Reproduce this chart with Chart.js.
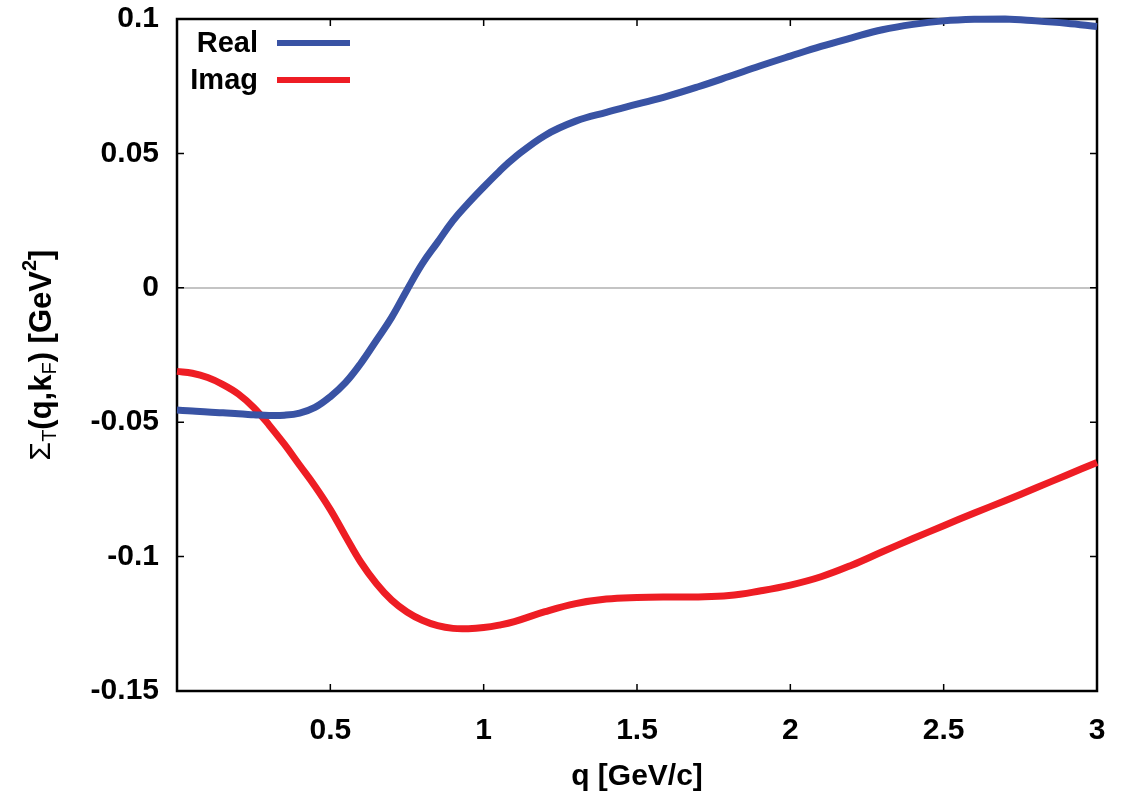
<!DOCTYPE html>
<html>
<head>
<meta charset="utf-8">
<script src="https://cdn.jsdelivr.net/npm/chart.js@4.4.1/dist/chart.umd.min.js"></script>
<style>
  html, body { margin: 0; padding: 0; background: #fff; }
  #wrap { width: 1132px; height: 799px; position: relative; }
</style>
</head>
<body>
<div id="wrap"><canvas id="chart"></canvas></div>
<script>
// q [GeV/c]
const qValues = [0, 0.05, 0.1, 0.15, 0.2, 0.25, 0.3, 0.35, 0.4, 0.45, 0.5, 0.55, 0.6, 0.65, 0.7, 0.75, 0.8, 0.85, 0.9, 0.95,
  1.0, 1.05, 1.1, 1.2, 1.3, 1.4, 1.5, 1.6, 1.7, 1.8, 1.9, 2.0, 2.1, 2.2, 2.3, 2.4, 2.5, 2.6, 2.7, 2.8, 2.9, 3.0];

const realValues = [-0.0455, -0.0458, -0.0462, -0.0465, -0.0469, -0.0472, -0.0475, -0.0474, -0.0466, -0.0445,
  -0.0405, -0.0352, -0.0280, -0.0196, -0.0110, -0.0008, 0.0090, 0.0170, 0.0250, 0.0315,
  0.0375, 0.0432, 0.0484, 0.0567, 0.0620, 0.0653, 0.0683, 0.0713, 0.0748, 0.0786, 0.0825,
  0.0862, 0.0898, 0.0930, 0.0960, 0.0980, 0.0993, 0.0999, 0.1000, 0.0993, 0.0984, 0.0972];

const imagValues = [-0.0311, -0.0318, -0.0334, -0.0360, -0.0395, -0.0445, -0.0510, -0.0582, -0.0660, -0.0738,
  -0.0825, -0.0925, -0.1022, -0.1100, -0.1162, -0.1206, -0.1237, -0.1257, -0.1267, -0.1268,
  -0.1264, -0.1255, -0.1242, -0.1205, -0.1175, -0.1158, -0.1152, -0.1150, -0.1150, -0.1145, -0.1128,
  -0.1106, -0.1075, -0.1032, -0.0982, -0.0933, -0.0885, -0.0838, -0.0792, -0.0745, -0.0697, -0.0650];

const seriesNames = ['Real', 'Imag'];
const xTicks = [0.5, 1, 1.5, 2, 2.5, 3];
const yTicks = [-0.15, -0.1, -0.05, 0, 0.05, 0.1];

const FONT = '"Liberation Sans", Arial, sans-serif';

const toPoints = vals => qValues.map((q, i) => ({ x: q, y: vals[i] }));

// frame + inward ticks on all four sides
const framePlugin = {
  id: 'frame',
  beforeDatasetsDraw(chart) {
    const { ctx, chartArea: a, scales: { x, y } } = chart;
    ctx.save();
    ctx.strokeStyle = '#000';
    ctx.lineWidth = 1.5;
    const len = 7;
    ctx.beginPath();
    xTicks.forEach(v => {
      const px = x.getPixelForValue(v);
      ctx.moveTo(px, a.bottom); ctx.lineTo(px, a.bottom - len);
      ctx.moveTo(px, a.top); ctx.lineTo(px, a.top + len);
    });
    yTicks.forEach(v => {
      const py = y.getPixelForValue(v);
      ctx.moveTo(a.left, py); ctx.lineTo(a.left + len, py);
      ctx.moveTo(a.right, py); ctx.lineTo(a.right - len, py);
    });
    ctx.stroke();
    ctx.lineWidth = 2.5;
    ctx.strokeRect(a.left, a.top, a.right - a.left, a.bottom - a.top);
    ctx.restore();
  },
  afterDraw(chart) {
    const { ctx, chartArea: a } = chart;
    // legend
    ctx.save();
    ctx.font = `bold 29px ${FONT}`;
    ctx.textAlign = 'right';
    ctx.textBaseline = 'middle';
    chart.data.datasets.forEach((ds, i) => {
      const yy = 43 + i * 37;
      ctx.fillStyle = '#000';
      ctx.fillText(ds.label, 258, yy + 1);
      ctx.strokeStyle = ds.borderColor;
      ctx.lineWidth = 6;
      ctx.beginPath();
      ctx.moveTo(277, yy); ctx.lineTo(350, yy);
      ctx.stroke();
    });
    // y title with sub/superscripts
    const parts = [
      { t: 'Σ', f: `30px ${FONT}`, dy: 0 },
      { t: 'T', f: `20px ${FONT}`, dy: 8 },
      { t: '(q,k', f: `bold 31px ${FONT}`, dy: 0 },
      { t: 'F', f: `20px ${FONT}`, dy: 8 },
      { t: ') [GeV', f: `bold 31px ${FONT}`, dy: 0 },
      { t: '2', f: `bold 20px ${FONT}`, dy: -12 },
      { t: ']', f: `bold 31px ${FONT}`, dy: 0 },
    ];
    let total = 0;
    parts.forEach(p => { ctx.font = p.f; p.w = ctx.measureText(p.t).width; total += p.w; });
    ctx.translate(42, (a.top + a.bottom) / 2);
    ctx.rotate(-Math.PI / 2);
    ctx.textAlign = 'left';
    ctx.textBaseline = 'middle';
    ctx.fillStyle = '#000';
    let cx = -total / 2;
    parts.forEach(p => { ctx.font = p.f; ctx.fillText(p.t, cx, p.dy); cx += p.w; });
    ctx.restore();
  }
};

new Chart(document.getElementById('chart'), {
  type: 'line',
  data: {
    datasets: [
      { label: seriesNames[0], data: toPoints(realValues), borderColor: '#3953a4', borderWidth: 7,
        pointRadius: 0, tension: 0.4, clip: 8 },
      { label: seriesNames[1], data: toPoints(imagValues), borderColor: '#ee1d24', borderWidth: 7,
        pointRadius: 0, tension: 0.4, clip: 8 },
    ]
  },
  options: {
    responsive: true,
    maintainAspectRatio: false,
    animation: false,
    layout: { padding: { top: 0, right: 35, left: 0, bottom: 0 } },
    plugins: { legend: { display: false }, tooltip: { enabled: false } },
    scales: {
      x: {
        type: 'linear', min: 0, max: 3,
        afterFit: s => { s.height = 108; },
        afterBuildTicks: s => { s.ticks = xTicks.map(v => ({ value: v })); },
        grid: { display: false, drawTicks: false },
        border: { display: false },
        ticks: {
          autoSkip: false, maxRotation: 0, padding: 22, color: '#000',
          font: { family: FONT, size: 30, weight: 'bold' },
          callback: v => String(v)
        },
        title: {
          display: true, text: 'q [GeV/c]', color: '#000',
          font: { family: FONT, size: 30, weight: 'bold' },
          padding: { top: 0, bottom: 4 }
        }
      },
      y: {
        type: 'linear', min: -0.15, max: 0.1,
        afterFit: s => { s.width = 177; s.paddingTop = 19; s.paddingBottom = 0; },
        afterBuildTicks: s => { s.ticks = yTicks.map(v => ({ value: v })); },
        grid: {
          drawTicks: false, lineWidth: 2,
          color: c => (c.tick && c.tick.value === 0 ? '#c4c4c4' : 'rgba(0,0,0,0)')
        },
        border: { display: false },
        ticks: {
          padding: 18, color: '#000',
          font: { family: FONT, size: 30, weight: 'bold' },
          callback: v => String(Number(v.toFixed(2)))
        }
      }
    }
  },
  plugins: [framePlugin]
});
</script>
</body>
</html>
